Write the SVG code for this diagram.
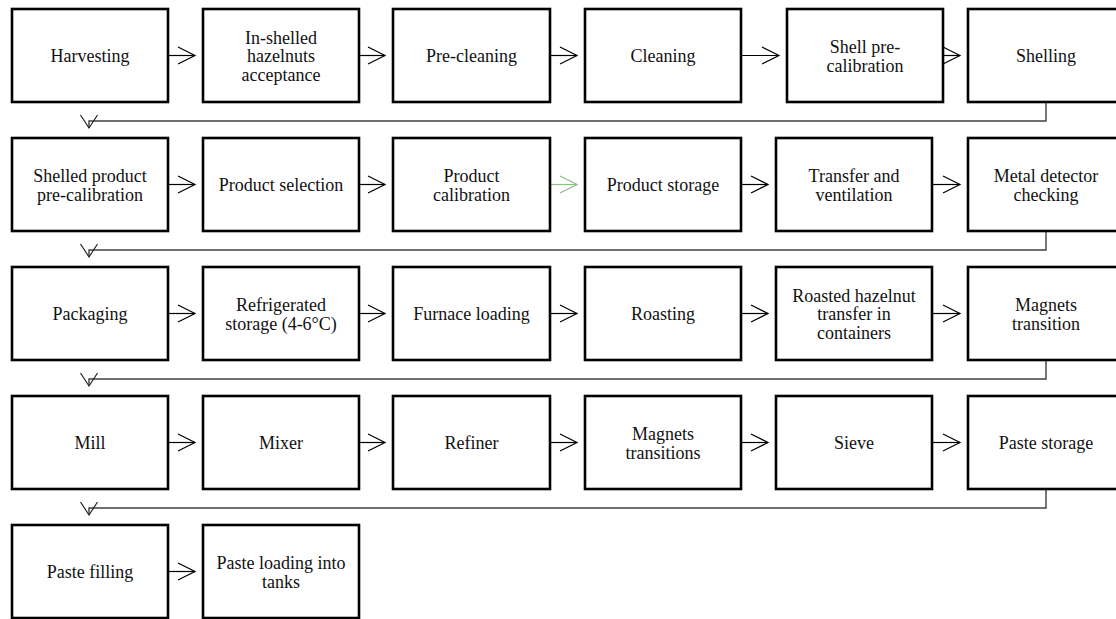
<svg xmlns="http://www.w3.org/2000/svg" width="1116" height="619" viewBox="0 0 1116 619">
<style>
.box rect{fill:#fff;stroke:#000;stroke-width:2.6}
.box text{font-family:"Times New Roman","Liberation Serif",Tinos,Times,serif;font-size:18px;fill:#111;text-anchor:middle}
.arr{fill:none;stroke:#000;stroke-width:1.2}
.green{stroke:#8dbf85}
.link{fill:none;stroke:#404040;stroke-width:1.4}
</style>
<defs>
<marker id="ah" markerUnits="userSpaceOnUse" markerWidth="20" markerHeight="20" viewBox="-18 -10 20 20" refX="0" refY="0" orient="auto" overflow="visible">
<path d="M-17,-8.5 L0,0 L-17,8.5" fill="none" stroke="#000" stroke-width="1.2"/>
</marker>
<marker id="ahg" markerUnits="userSpaceOnUse" markerWidth="20" markerHeight="20" viewBox="-18 -10 20 20" refX="0" refY="0" orient="auto" overflow="visible">
<path d="M-17,-8.5 L0,0 L-17,8.5" fill="none" stroke="#8dbf85" stroke-width="1.2"/>
</marker>
<marker id="ahd" markerUnits="userSpaceOnUse" markerWidth="20" markerHeight="20" viewBox="-18 -10 20 20" refX="0" refY="0" orient="auto" overflow="visible">
<path d="M-13,-8.5 L0,0 L-13,8.5" fill="none" stroke="#222" stroke-width="1.2"/>
</marker>
</defs>

<g id="connectors">
<path class="arr" d="M168,55.5 H195" marker-end="url(#ah)"/>
<path class="arr" d="M359,55.5 H385" marker-end="url(#ah)"/>
<path class="arr" d="M550,55.5 H577" marker-end="url(#ah)"/>
<path class="arr" d="M741,55.5 H779" marker-end="url(#ah)"/>
<path class="arr" d="M943,55.5 H960" marker-end="url(#ah)"/>
<path class="link" d="M1046,102 V121 H89 V128" marker-end="url(#ahd)"/>
<path class="arr" d="M168,184.5 H195" marker-end="url(#ah)"/>
<path class="arr" d="M359,184.5 H385" marker-end="url(#ah)"/>
<path class="arr green" d="M550,184.5 H577" marker-end="url(#ahg)"/>
<path class="arr" d="M741,184.5 H768" marker-end="url(#ah)"/>
<path class="arr" d="M932,184.5 H960" marker-end="url(#ah)"/>
<path class="link" d="M1046,231 V250 H89 V257" marker-end="url(#ahd)"/>
<path class="arr" d="M168,313.5 H195" marker-end="url(#ah)"/>
<path class="arr" d="M359,313.5 H385" marker-end="url(#ah)"/>
<path class="arr" d="M550,313.5 H577" marker-end="url(#ah)"/>
<path class="arr" d="M741,313.5 H768" marker-end="url(#ah)"/>
<path class="arr" d="M932,313.5 H960" marker-end="url(#ah)"/>
<path class="link" d="M1046,360 V379 H89 V386" marker-end="url(#ahd)"/>
<path class="arr" d="M168,442.5 H195" marker-end="url(#ah)"/>
<path class="arr" d="M359,442.5 H385" marker-end="url(#ah)"/>
<path class="arr" d="M550,442.5 H577" marker-end="url(#ah)"/>
<path class="arr" d="M741,442.5 H768" marker-end="url(#ah)"/>
<path class="arr" d="M932,442.5 H960" marker-end="url(#ah)"/>
<path class="link" d="M1046,489 V508 H89 V515" marker-end="url(#ahd)"/>
<path class="arr" d="M168,571.5 H195" marker-end="url(#ah)"/>
</g>

<g id="n-harvesting" class="box"><rect x="12" y="9" width="156" height="93"/><text x="90" y="62">Harvesting</text></g>
<g id="n-acceptance" class="box"><rect x="203" y="9" width="156" height="93"/><text x="281" y="43.5">In-shelled</text><text x="281" y="62">hazelnuts</text><text x="281" y="80.5">acceptance</text></g>
<g id="n-precleaning" class="box"><rect x="393" y="9" width="157" height="93"/><text x="471.5" y="62">Pre-cleaning</text></g>
<g id="n-cleaning" class="box"><rect x="585" y="9" width="156" height="93"/><text x="663" y="62">Cleaning</text></g>
<g id="n-shellprecal" class="box"><rect x="787" y="9" width="156" height="93"/><text x="865" y="53">Shell pre-</text><text x="865" y="71.5">calibration</text></g>
<g id="n-shelling" class="box"><rect x="968" y="9" width="156" height="93"/><text x="1046" y="62">Shelling</text></g>

<g id="n-shelledprecal" class="box"><rect x="12" y="138" width="156" height="93"/><text x="90" y="182">Shelled product</text><text x="90" y="200.5">pre-calibration</text></g>
<g id="n-selection" class="box"><rect x="203" y="138" width="156" height="93"/><text x="281" y="191">Product selection</text></g>
<g id="n-calibration" class="box"><rect x="393" y="138" width="157" height="93"/><text x="471.5" y="182">Product</text><text x="471.5" y="200.5">calibration</text></g>
<g id="n-storage" class="box"><rect x="585" y="138" width="156" height="93"/><text x="663" y="191">Product storage</text></g>
<g id="n-transfer" class="box"><rect x="776" y="138" width="156" height="93"/><text x="854" y="182">Transfer and</text><text x="854" y="200.5">ventilation</text></g>
<g id="n-metal" class="box"><rect x="968" y="138" width="156" height="93"/><text x="1046" y="182">Metal detector</text><text x="1046" y="200.5">checking</text></g>

<g id="n-packaging" class="box"><rect x="12" y="267" width="156" height="93"/><text x="90" y="320">Packaging</text></g>
<g id="n-refrigerated" class="box"><rect x="203" y="267" width="156" height="93"/><text x="281" y="311">Refrigerated</text><text x="281" y="329.5">storage (4-6°C)</text></g>
<g id="n-furnace" class="box"><rect x="393" y="267" width="157" height="93"/><text x="471.5" y="320">Furnace loading</text></g>
<g id="n-roasting" class="box"><rect x="585" y="267" width="156" height="93"/><text x="663" y="320">Roasting</text></g>
<g id="n-roastedtransfer" class="box"><rect x="776" y="267" width="156" height="93"/><text x="854" y="301.5">Roasted hazelnut</text><text x="854" y="320">transfer in</text><text x="854" y="338.5">containers</text></g>
<g id="n-magnets1" class="box"><rect x="968" y="267" width="156" height="93"/><text x="1046" y="311">Magnets</text><text x="1046" y="329.5">transition</text></g>

<g id="n-mill" class="box"><rect x="12" y="396" width="156" height="93"/><text x="90" y="449">Mill</text></g>
<g id="n-mixer" class="box"><rect x="203" y="396" width="156" height="93"/><text x="281" y="449">Mixer</text></g>
<g id="n-refiner" class="box"><rect x="393" y="396" width="157" height="93"/><text x="471.5" y="449">Refiner</text></g>
<g id="n-magnets2" class="box"><rect x="585" y="396" width="156" height="93"/><text x="663" y="440">Magnets</text><text x="663" y="458.5">transitions</text></g>
<g id="n-sieve" class="box"><rect x="776" y="396" width="156" height="93"/><text x="854" y="449">Sieve</text></g>
<g id="n-pastestorage" class="box"><rect x="968" y="396" width="156" height="93"/><text x="1046" y="449">Paste storage</text></g>

<g id="n-pastefilling" class="box"><rect x="12" y="525" width="156" height="93"/><text x="90" y="578">Paste filling</text></g>
<g id="n-pasteloading" class="box"><rect x="203" y="525" width="156" height="93"/><text x="281" y="569">Paste loading into</text><text x="281" y="587.5">tanks</text></g>
</svg>
